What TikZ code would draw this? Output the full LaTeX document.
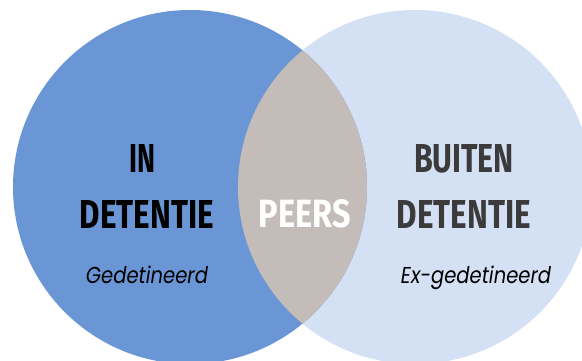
\documentclass[tikz,border=0pt]{standalone}
\usepackage{fontspec}
\usepackage{graphicx}
\newfontfamily\headfont{Fira Sans}
\newfontfamily\subfont{Poppins}
\definecolor{leftblue}{HTML}{6A96D6}
\definecolor{rightblue}{HTML}{D4E0F3}
\definecolor{lensgrey}{HTML}{C3BCB8}
\definecolor{darktext}{HTML}{3B3B3B}
\newcommand{\fitbox}[3]{\resizebox{#1pt}{#2pt}{#3}}
\begin{document}
\begin{tikzpicture}[x=1pt,y=-1pt,
  head/.style={anchor=base,inner sep=0pt,font=\headfont\bfseries},
  sub/.style={anchor=base,inner sep=0pt,font=\subfont\itshape}]
\useasboundingbox (0,0) rectangle (582,361);
\begin{scope}
  \clip (0,10) rectangle (582,361);
  \fill[rightblue] (415,187) circle (177);
  \fill[leftblue] (190,187) circle (177);
  \clip (190,187) circle (177);
  \fill[lensgrey] (415,187) circle (177);
\end{scope}
\node[head,text=black] (in) at (143,173) {\fitbox{26}{28}{IN}};
\node[head,text=black] (det1) at (147,228) {\fitbox{134}{28}{DETENTIE}};
\node[sub,text=black] (ged) at (147,283) {\fitbox{122}{17.5}{Gedetineerd}};
\node[head,text=white] (peers) at (305,228) {\fitbox{92}{28}{PEERS}};
\node[head,text=darktext] (buiten) at (464,173) {\fitbox{100}{28}{BUITEN}};
\node[head,text=darktext] (det2) at (464,228) {\fitbox{134}{28}{DETENTIE}};
\node[sub,text=black] (exged) at (476,283) {\fitbox{150}{17.5}{Ex-gedetineerd}};
\end{tikzpicture}
\end{document}
